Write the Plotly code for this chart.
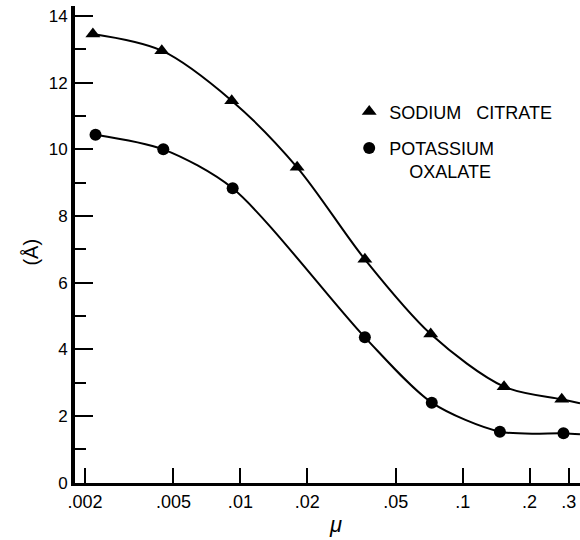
import plotly.graph_objects as go
import numpy as np

# Data
citrate_mu = [0.00217, 0.00443, 0.00914, 0.0180, 0.0363, 0.0718, 0.1535, 0.279]
citrate_d = [13.46, 12.96, 11.46, 9.46, 6.70, 4.46, 2.88, 2.50]
oxalate_mu = [0.00223, 0.0045, 0.00923, 0.0363, 0.0726, 0.147, 0.284]
oxalate_d = [10.44, 10.0, 8.83, 4.36, 2.40, 1.53, 1.48]

# where the fitted curves leave the right edge of the frame
curve_end_mu = 0.337
citrate_curve_end = 2.38
oxalate_curve_end = 1.45

x_tickvals = [0.002, 0.005, 0.01, 0.02, 0.05, 0.1, 0.2, 0.3]
x_ticktext = [".002", ".005", ".01", ".02", ".05", ".1", ".2", ".3"]
y_tickvals = [0, 2, 4, 6, 8, 10, 12, 14]

FONT = "Liberation Sans, Arial, sans-serif"

fig = go.Figure()

fig.add_trace(go.Scatter(
    x=citrate_mu + [curve_end_mu], y=citrate_d + [citrate_curve_end],
    mode="lines", line=dict(color="black", width=2, shape="spline", smoothing=0.9),
    showlegend=False, hoverinfo="skip"))
fig.add_trace(go.Scatter(
    x=oxalate_mu + [curve_end_mu], y=oxalate_d + [oxalate_curve_end],
    mode="lines", line=dict(color="black", width=2, shape="spline", smoothing=0.8),
    showlegend=False, hoverinfo="skip"))

fig.add_trace(go.Scatter(
    x=citrate_mu, y=citrate_d, mode="markers",
    marker=dict(symbol="triangle-up", size=13, color="black"),
    name="SODIUM\u00a0\u00a0\u00a0CITRATE", legendgroup="a"))
fig.add_trace(go.Scatter(
    x=oxalate_mu, y=oxalate_d, mode="markers",
    marker=dict(symbol="circle", size=12, color="black"),
    name="POTASSIUM<br>\u00a0\u00a0\u00a0\u00a0OXALATE", legendgroup="b"))

fig.update_layout(
    width=580, height=540,
    margin=dict(l=75, r=0, t=6, b=57),
    paper_bgcolor="white", plot_bgcolor="white",
    font=dict(family=FONT, color="black"),
    showlegend=True,
    legend=dict(x=0.543, y=0.817, xanchor="left", yanchor="top",
                font=dict(family=FONT, size=18, color="black"),
                bgcolor="rgba(0,0,0,0)", tracegroupgap=10, valign="top",
                itemsizing="trace"),
    xaxis=dict(
        type="log", range=[-2.744, -0.4723],
        tickvals=x_tickvals, ticktext=x_ticktext,
        ticks="inside", ticklen=15, tickwidth=1.5, tickcolor="black",
        showline=True, linewidth=3, linecolor="black",
        showgrid=False, zeroline=False,
        tickfont=dict(family=FONT, size=18, color="black"),
    ),
    yaxis=dict(
        range=[-0.01, 14.30],
        tickvals=y_tickvals,
        ticks="inside", ticklen=18, tickwidth=1.5, tickcolor="black",
        minor=dict(ticks="inside", ticklen=11, tickwidth=1.5, tickcolor="black", dtick=1, tick0=0),
        showline=True, linewidth=4, linecolor="black",
        showgrid=False, zeroline=False,
        tickfont=dict(family=FONT, size=17, color="black"),
    ),
    annotations=[
        dict(text="(Å)", xref="paper", yref="paper", x=-0.112, y=0.484,
             showarrow=False, textangle=-90, font=dict(family=FONT, size=20, color="black")),
        dict(text="<i>μ</i>", xref="paper", yref="paper", x=0.515, y=-0.118,
             showarrow=False, font=dict(family=FONT, size=22, color="black")),
    ],
)

fig.write_html("out.html")
